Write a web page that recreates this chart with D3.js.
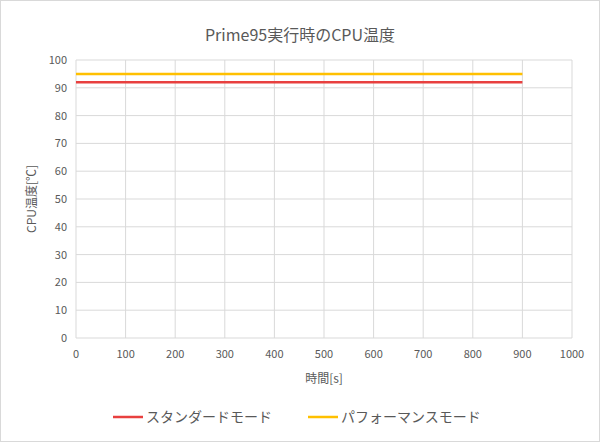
<!DOCTYPE html><html><head><meta charset="utf-8"><script src="https://cdn.jsdelivr.net/npm/d3@7"></script>
<style>body{margin:0;background:#fff}text{font-family:"Noto Sans CJK JP","Noto Sans",sans-serif}</style></head><body><svg id="c" width="600" height="442"></svg><script>
const times=[0,900];
const standard=[92,92];
const performance=[95,95];
const seriesNames=["スタンダードモード","パフォーマンスモード"];
const colors=["#e8403f","#ffc000"];
const xTicks=d3.range(0,1001,100), yTicks=d3.range(0,101,10);
const svg=d3.select("#c");
svg.append("rect").attr("x",0.5).attr("y",0.5).attr("width",599).attr("height",441).attr("fill","#fff").attr("stroke","#d9d9d9");
const x=d3.scaleLinear().domain([0,1000]).range([76,572]);
const y=d3.scaleLinear().domain([0,100]).range([338,60]);
const g=svg.append("g");
g.selectAll(".h").data(yTicks).join("line").attr("x1",x(0)).attr("x2",x(1000)).attr("y1",d=>y(d)).attr("y2",d=>y(d)).attr("stroke","#d9d9d9");
g.selectAll(".v").data(xTicks).join("line").attr("y1",y(0)).attr("y2",y(100)).attr("x1",d=>x(d)).attr("x2",d=>x(d)).attr("stroke","#d9d9d9");
g.selectAll(".yl").data(yTicks).join("text").attr("x",x(0)-9).attr("y",d=>y(d)+4).attr("text-anchor","end").attr("font-size",11).attr("fill","#595959").text(d=>d);
g.selectAll(".xl").data(xTicks).join("text").attr("x",d=>x(d)).attr("y",y(0)+20).attr("text-anchor","middle").attr("font-size",11).attr("fill","#595959").text(d=>d);
const line=d3.line().x((d,i)=>x(times[i])).y(d=>y(d));
[standard,performance].forEach((s,i)=>svg.append("path").attr("d",line(s)).attr("stroke",colors[i]).attr("stroke-width",2.5).attr("fill","none"));
svg.append("text").attr("x",300).attr("y",41).attr("text-anchor","middle").attr("font-size",16).attr("fill","#595959").text("Prime95実行時のCPU温度");
svg.append("text").attr("x",324).attr("y",383).attr("text-anchor","middle").attr("font-size",12).attr("fill","#595959").text("時間[s]");
svg.append("text").attr("transform","translate(36,199) rotate(-90)").attr("text-anchor","middle").attr("font-size",12).attr("fill","#595959").text("CPU温度[℃]");
const lx=[113,308];
seriesNames.forEach((n,i)=>{svg.append("line").attr("x1",lx[i]).attr("x2",lx[i]+30).attr("y1",417).attr("y2",417).attr("stroke",colors[i]).attr("stroke-width",2.5);
svg.append("text").attr("x",lx[i]+33).attr("y",422).attr("font-size",14).attr("fill","#595959").text(n);});
</script></body></html>
